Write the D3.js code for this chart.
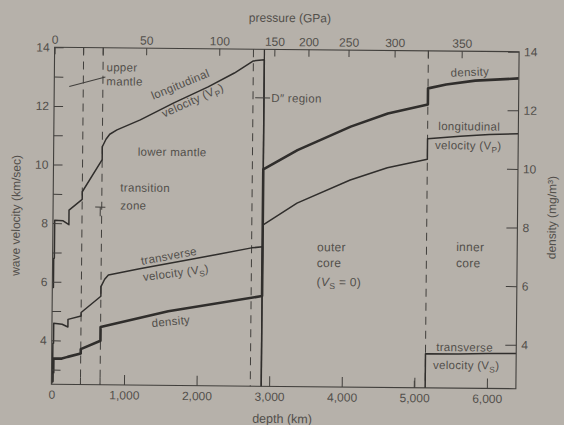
<!DOCTYPE html>
<html>
<head>
<meta charset="utf-8">
<script src="https://cdn.jsdelivr.net/npm/d3@7"></script>
<style>
  html, body { margin: 0; padding: 0; background: #b6b1aa; }
  svg { display: block; }
  text { font-family: "Liberation Sans", Arial, Helvetica, sans-serif; fill: #524f4b; }
</style>
</head>
<body>
<svg id="chart" width="564" height="425"></svg>
<script>
// Seismic velocity and density profiles through the Earth, by depth (km)
const vpDepth = [0, 15, 15, 24, 24, 140, 220, 220, 400, 400, 670, 670, 720, 771, 870, 1190, 1650, 2120, 2480, 2740, 2891,
                 2891, 3360, 4090, 4600, 5150,
                 5150, 5600, 6000, 6400];
const vpValue = [5.8, 5.8, 6.8, 6.8, 8.1, 8.08, 7.95, 8.45, 8.82, 9.08, 10.18, 10.62, 10.88, 11.05, 11.2, 11.55, 12.14, 12.7, 13.18, 13.6, 13.64,
                 8.0, 8.76, 9.57, 10.0, 10.3,
                 11.0, 11.1, 11.17, 11.2];

const vsDepth = [0, 15, 15, 24, 24, 140, 220, 220, 400, 400, 670, 670, 720, 771, 1200, 1800, 2300, 2740, 2891,
                 2891, 5150,
                 5150, 5600, 6000, 6400];
const vsValue = [3.2, 3.2, 3.9, 3.9, 4.58, 4.55, 4.46, 4.72, 4.84, 4.96, 5.52, 5.85, 6.1, 6.25, 6.47, 6.76, 7.0, 7.22, 7.26,
                 0, 0,
                 3.66, 3.67, 3.69, 3.7];

const rhoDepth = [0, 15, 15, 24, 24, 140, 220, 400, 400, 670, 670, 1600, 2891,
                  2891, 3360, 4090, 4600, 5150,
                  5150, 5400, 5800, 6400];
const rhoValue = [2.6, 2.6, 2.9, 2.9, 3.38, 3.38, 3.44, 3.56, 3.71, 4.0, 4.47, 5.03, 5.58,
                  9.9, 10.57, 11.39, 11.85, 12.17,
                  12.72, 12.86, 13.0, 13.09];

// Axis ticks
const depthMax = 6400;
const depthTicks = [0, 1000, 2000, 3000, 4000, 5000, 6000];
const depthTickLabels = ["0", "1,000", "2,000", "3,000", "4,000", "5,000", "6,000"];
const pressureTicks = [0, 50, 100, 150, 200, 250, 300, 350];
const pressureTickDepths = [0, 1262, 2269, 3028, 3498, 4050, 4685, 5609];
const velocityTicks = [3, 4, 5, 6, 7, 8, 9, 10, 11, 12, 13, 14];
const velocityTickLabels = [4, 6, 8, 10, 12, 14];
const densityTicks = [4, 6, 8, 10, 12, 14];
const dashedBoundaries = [400, 670, 2740, 5150];
const coreMantleBoundary = 2891;

const svg = d3.select("#chart");
const g = svg.append("g").attr("transform", "rotate(0.55,285,218)");

const x = d3.scaleLinear().domain([0, depthMax]).range([53, 517.5]);
const y = d3.scaleLinear().domain([2.5, 14]).range([386.5, 49.5]);
const pressureToDepth = d3.scaleLinear().domain(pressureTicks).range(pressureTickDepths);

const ink = "#302e2c";
const axisInk = "#413f3c";
const font = '"Liberation Sans", Arial, Helvetica, sans-serif';

g.append("clipPath").attr("id", "plot-clip")
  .append("rect")
  .attr("x", x(0)).attr("y", y(14))
  .attr("width", x(depthMax) - x(0)).attr("height", y(2.5) - y(14));

// Boundary lines
g.selectAll("line.boundary")
  .data(dashedBoundaries)
  .join("line")
  .attr("class", "boundary")
  .attr("x1", d => x(d)).attr("x2", d => x(d))
  .attr("y1", y(14)).attr("y2", y(2.5))
  .attr("stroke", axisInk).attr("stroke-width", 1)
  .attr("stroke-dasharray", "8,6");

g.append("line")
  .attr("x1", x(coreMantleBoundary)).attr("x2", x(coreMantleBoundary))
  .attr("y1", y(14)).attr("y2", y(2.5))
  .attr("stroke", ink).attr("stroke-width", 1.3);

// Profiles
const line = d3.line().x(d => x(d[0])).y(d => y(d[1]));
const series = [
  { depth: vpDepth, value: vpValue, width: 1.5 },
  { depth: vsDepth, value: vsValue, width: 1.5 },
  { depth: rhoDepth, value: rhoValue, width: 2.6 }
];
g.append("g").attr("clip-path", "url(#plot-clip)")
  .selectAll("path")
  .data(series)
  .join("path")
  .attr("d", s => line(s.depth.map((d, i) => [d, s.value[i]])))
  .attr("fill", "none")
  .attr("stroke", ink)
  .attr("stroke-width", s => s.width)
  .attr("stroke-linejoin", "round");

// Frame
g.append("rect")
  .attr("x", x(0)).attr("y", y(14))
  .attr("width", x(depthMax) - x(0)).attr("height", y(2.5) - y(14))
  .attr("fill", "none").attr("stroke", axisInk).attr("stroke-width", 1.1);

function styleAxis(sel) {
  sel.select(".domain").remove();
  sel.selectAll(".tick line").attr("stroke", axisInk).attr("stroke-width", 1);
  sel.selectAll(".tick text").attr("fill", "#524f4b").attr("font-size", 12).attr("font-family", font);
}

// Bottom: depth
g.append("g")
  .attr("transform", `translate(0,${y(2.5)})`)
  .call(d3.axisBottom(x).tickValues(depthTicks).tickSize(-10).tickPadding(6)
    .tickFormat((d, i) => depthTickLabels[i]))
  .call(styleAxis);

// Small boundary marks on the depth axis
g.selectAll("line.bmark")
  .data([400, 670, 5000])
  .join("line").attr("class", "bmark")
  .attr("x1", d => x(d)).attr("x2", d => x(d))
  .attr("y1", y(2.5)).attr("y2", y(2.5) - 7)
  .attr("stroke", axisInk);

// Top: pressure
g.append("g")
  .attr("transform", `translate(0,${y(14)})`)
  .call(d3.axisTop(x).tickValues(pressureTicks.map(p => pressureToDepth(p))).tickSize(-7).tickPadding(3.5)
    .tickFormat((d, i) => pressureTicks[i]))
  .call(styleAxis);

g.selectAll("line.tmark")
  .data([400, 670, 5150])
  .join("line").attr("class", "tmark")
  .attr("x1", d => x(d)).attr("x2", d => x(d))
  .attr("y1", y(14)).attr("y2", y(14) + 7)
  .attr("stroke", axisInk);

// Left: wave velocity
g.append("g")
  .attr("transform", `translate(${x(0)},0)`)
  .call(d3.axisLeft(y).tickValues(velocityTicks).tickSize(-9).tickPadding(5)
    .tickFormat(d => velocityTickLabels.includes(d) ? d : ""))
  .call(styleAxis);

// Right: density
g.append("g")
  .attr("transform", `translate(${x(depthMax)},0)`)
  .call(d3.axisRight(y).tickValues(densityTicks).tickSize(-11).tickPadding(5))
  .call(styleAxis);

// Axis titles
g.append("text").attr("x", 288).attr("y", 22).attr("text-anchor", "middle")
  .attr("font-size", 12).text("pressure (GPa)");
g.append("text").attr("x", 284).attr("y", 423).attr("text-anchor", "middle")
  .attr("font-size", 12.5).text("depth (km)");
g.append("text").attr("transform", "translate(20,218) rotate(-90)").attr("text-anchor", "middle")
  .attr("font-size", 12).text("wave velocity (km/sec)");
g.append("text").attr("transform", "translate(556,215) rotate(-90)").attr("text-anchor", "middle")
  .attr("font-size", 12).text("density (mg/m³)");

// Annotations, placed in depth/value coordinates
function label(depth, value, parts, angle = 0, size = 11.5) {
  const t = g.append("text")
    .attr("transform", `translate(${x(depth)},${y(value)}) rotate(${angle})`)
    .attr("font-size", size).attr("letter-spacing", 0.3);
  [].concat(parts).forEach(p => {
    if (typeof p === "string") t.append("tspan").text(p);
    else {
      const ts = t.append("tspan").text(p.text);
      if (p.italic) ts.attr("font-style", "italic");
      if (p.sub) ts.attr("font-size", size * 0.72).attr("dy", 3);
      if (p.up) ts.attr("dy", -3);
    }
  });
  return t;
}

label(717, 13.2, "upper");
label(717, 12.72, "mantle");
label(1365, 12.24, "longitudinal", -23);
label(1517, 11.63, ["velocity (V", { text: "P", sub: true }, { text: ")", up: true }], -25);
label(1159, 10.33, "lower mantle");
label(924, 9.1, "transition");
label(924, 8.49, "zone");
label(2993, 12.2, "D″ region");
label(1228, 6.6, "transverse", -11);
label(1255, 6.05, ["velocity (V", { text: "S", sub: true }, { text: ")", up: true }], -8);
label(1379, 4.48, "density", -6);
label(3641, 7.13, "outer", 0, 12);
label(3641, 6.59, "core", 0, 12);
label(3641, 5.94, ["(", { text: "V", italic: true }, { text: "S", sub: true }, { text: " = 0)", up: true }], 0, 12);
label(5559, 7.18, "inner", 0, 12);
label(5559, 6.63, "core", 0, 12);
label(5462, 13.12, "density", -3);
label(5297, 11.3, "longitudinal");
label(5255, 10.65, ["velocity (V", { text: "P", sub: true }, { text: ")", up: true }]);
label(5297, 3.76, "transverse");
label(5255, 3.15, ["velocity (V", { text: "S", sub: true }, { text: ")", up: true }]);

// Leader marks for the layer labels
const marks = [
  [[207, 12.67], [703, 13.0]],       // upper mantle
  [[2770, 12.34], [2975, 12.34]],    // D'' region
  [[580, 8.56], [720, 8.56]],        // transition zone
  [[650, 8.56], [650, 8.25]]
];
g.selectAll("path.mark")
  .data(marks)
  .join("path").attr("class", "mark")
  .attr("d", d => line(d))
  .attr("fill", "none").attr("stroke", axisInk).attr("stroke-width", 1);
</script>
</body>
</html>
